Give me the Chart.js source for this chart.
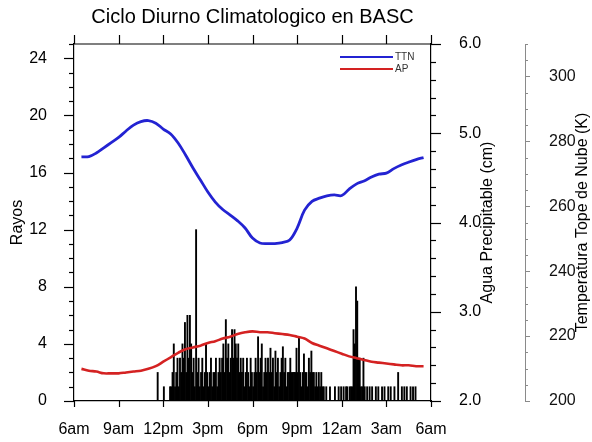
<!DOCTYPE html>
<html>
<head>
<meta charset="utf-8">
<script src="https://cdn.jsdelivr.net/npm/chart.js@4.4.1/dist/chart.umd.min.js"></script>
<style>
  body { margin: 0; background: #fff; }
  canvas { display: block; }
</style>
</head>
<body>
<canvas id="cicloChart" width="592" height="442"></canvas>
<script>
// Etiquetas del eje x (horas desde las 6am)
const horaTicks = [0, 3, 6, 9, 12, 15, 18, 21, 24];
const horaLabels = ['6am', '9am', '12pm', '3pm', '6pm', '9pm', '12am', '3am', '6am'];

// Ticks de cada eje vertical
const rayosTicks = [0, 4, 8, 12, 16, 20, 24];
const aguaTicks = [2, 3, 4, 5, 6];
const tempTicks = [200, 220, 240, 260, 280, 300];

// Rayos por intervalo de 5 minutos, una fila por hora empezando a las 6am
const binHoras = 5 / 60;
const rayos = [
    0, 0, 0, 0, 0, 0, 0, 0, 0, 0, 0, 0,
    0, 0, 0, 0, 0, 0, 0, 0, 0, 0, 0, 0,
    0, 0, 0, 0, 0, 0, 0, 0, 0, 0, 0, 0,
    0, 0, 0, 0, 0, 0, 0, 0, 0, 0, 0, 0,
    0, 0, 0, 0, 0, 0, 0, 0, 0, 0, 0, 0,
    0, 0, 0, 0, 0, 0, 0, 2, 0, 0, 0, 0,
    1, 0, 0, 0, 0, 1, 1, 2, 4, 1, 2, 3,
    1, 3, 2, 4, 3, 5.5, 2, 6, 3, 6, 4, 2,
    3, 1, 12, 2, 3, 1, 2, 3, 1, 2, 4, 2,
    1, 2, 3, 1, 2, 2, 3, 1, 2, 3, 2, 3,
    4, 2, 5.7, 3, 4, 2, 3, 5, 3, 5, 4, 3,
    4, 2, 3, 2, 3, 1, 2, 3, 2, 1, 3, 2,
    1, 2, 3, 2, 4.5, 2, 3, 4, 1, 2, 3, 2,
    3, 2, 3.7, 2, 3, 1, 3.5, 2, 3, 1, 2, 3,
    3.8, 2, 3, 1, 2, 2, 3, 2, 2, 2, 2, 3.7,
    2, 4.5, 2, 1, 2, 3.3, 2, 2, 1, 3, 2, 3.5,
    2, 2, 1, 2, 1, 2, 1, 2, 1, 1, 0, 1,
    0, 0, 1, 0, 0, 0, 1, 0, 0, 1, 0, 1,
    0, 1, 0, 1, 1, 0, 1, 1, 1, 5, 4, 8,
    7, 3, 3, 1, 1, 3, 1, 0, 1, 0, 1, 0,
    1, 0, 0, 1, 0, 1, 0, 0, 1, 0, 1, 0,
    0, 1, 0, 1, 0, 0, 1, 0, 0, 2, 0, 0,
    1, 0, 1, 0, 1, 0, 0, 1, 0, 1, 0, 1,
    0, 0, 0, 0, 0, 0, 0, 0, 0, 0, 0, 0
];

// Medias cada media hora (6:30am ... 5:30am)
const horasLinea = [];
for (let i = 0; i < 47; i++) horasLinea.push(0.5 + i * 0.5);

// Temperatura tope de nube (K)
const ttn = [
    275.2, 275.3, 276.4, 278.0, 279.6, 281.2, 283.2, 285.0, 286.1, 286.4,
    285.6, 283.8, 282.3, 279.5, 275.8, 271.8, 268.1, 264.4, 261.3, 259.0,
    257.3, 255.5, 253.3, 250.2, 248.7, 248.5, 248.5, 248.8, 249.6, 253.3,
    258.8, 261.5, 262.5, 263.2, 263.5, 263.3, 265.3, 266.9, 267.8, 269.0,
    269.9, 270.2, 271.6, 272.7, 273.6, 274.4, 275.0
];

// Agua precipitable (cm)
const ap = [
    2.36, 2.34, 2.33, 2.31, 2.31, 2.31, 2.32, 2.33, 2.34, 2.36,
    2.39, 2.44, 2.49, 2.54, 2.58, 2.60, 2.62, 2.65, 2.67, 2.70,
    2.72, 2.75, 2.77, 2.78, 2.77, 2.77, 2.76, 2.75, 2.74, 2.72,
    2.70, 2.65, 2.62, 2.59, 2.56, 2.53, 2.50, 2.48, 2.46, 2.44,
    2.43, 2.42, 2.41, 2.40, 2.40, 2.39, 2.39
];

const FUENTE = "'Liberation Sans', Arial, Helvetica, sans-serif";

function linea(ctx, x1, y1, x2, y2) {
    ctx.beginPath();
    ctx.moveTo(x1, y1);
    ctx.lineTo(x2, y2);
    ctx.stroke();
}

// Marcas de los ejes, borde superior, titulos y leyenda
const ejesNCL = {
    id: 'ejesNCL',
    afterDraw(chart) {
        const { ctx, chartArea: a, scales } = chart;
        ctx.save();
        ctx.strokeStyle = '#000';
        ctx.lineWidth = 1.2;

        // borde superior
        linea(ctx, a.left, a.top, a.right, a.top);

        // marcas del eje x (abajo y arriba)
        horaTicks.forEach(v => {
            const px = Math.round(scales.x.getPixelForValue(v)) + 0.5;
            linea(ctx, px, a.bottom, px, a.bottom + 6);
            linea(ctx, px, a.top, px, a.top - 9);
        });

        // eje de rayos (izquierda)
        for (let v = 0; v <= 25; v++) {
            const py = Math.round(scales.y.getPixelForValue(v)) + 0.5;
            const largo = v % 4 === 0 ? 10 : 5;
            linea(ctx, a.left - largo, py, a.left, py);
        }

        // eje de agua precipitable
        const x1 = scales.y1.left;
        for (let k = 0; k <= 20; k++) {
            const v = 2 + k * 0.2;
            const py = Math.round(scales.y1.getPixelForValue(v)) + 0.5;
            const largo = k % 5 === 0 ? 10 : 5;
            linea(ctx, x1, py, x1 + largo, py);
        }

        // eje de temperatura
        ctx.strokeStyle = '#8a8a8a';
        ctx.lineWidth = 1;
        const x2 = scales.y2.left;
        for (let v = 200; v <= 310; v += 5) {
            const py = Math.round(scales.y2.getPixelForValue(v)) + 0.5;
            const largo = v % 20 === 0 ? 5 : 3;
            linea(ctx, x2, py, x2 + largo, py);
        }

        // titulo
        ctx.fillStyle = '#000';
        ctx.font = '20px ' + FUENTE;
        ctx.textAlign = 'center';
        ctx.textBaseline = 'middle';
        ctx.fillText('Ciclo Diurno Climatologico en BASC', (a.left + a.right) / 2, 17);

        // titulos de los ejes verticales
        const yc = (a.top + a.bottom) / 2;
        ctx.font = '16px ' + FUENTE;
        [['Rayos', 18], ['Agua Precipitable (cm)', 488], ['Temperatura Tope de Nube (K)', 583]].forEach(([txt, x]) => {
            ctx.save();
            ctx.translate(x, yc);
            ctx.rotate(-Math.PI / 2);
            ctx.fillText(txt, 0, 0);
            ctx.restore();
        });

        // leyenda
        ctx.font = '10px ' + FUENTE;
        ctx.textAlign = 'left';
        ctx.fillStyle = '#333';
        ctx.lineWidth = 2.2;
        chart.data.datasets.filter(d => d.type === 'line').forEach((d, i) => {
            const ly = a.top + 13 + i * 12;
            ctx.strokeStyle = d.borderColor;
            linea(ctx, a.right - 91, ly, a.right - 38, ly);
            ctx.fillText(d.label, a.right - 36, ly);
        });
        ctx.restore();
    }
};

const ctx = document.getElementById('cicloChart').getContext('2d');
new Chart(ctx, {
    data: {
        datasets: [{
            type: 'line',
            label: 'TTN',
            data: horasLinea.map((h, i) => ({ x: h, y: ttn[i] })),
            yAxisID: 'y2',
            borderColor: '#2323d2',
            borderWidth: 2.8,
            pointRadius: 0,
            tension: 0.35,
            order: 0
        }, {
            type: 'line',
            label: 'AP',
            data: horasLinea.map((h, i) => ({ x: h, y: ap[i] })),
            yAxisID: 'y1',
            borderColor: '#d42222',
            borderWidth: 2.6,
            pointRadius: 0,
            tension: 0.35,
            order: 1
        }, {
            type: 'bar',
            label: 'Rayos',
            data: rayos.map((v, i) => ({ x: (i + 0.5) * binHoras, y: v })),
            yAxisID: 'y',
            backgroundColor: '#000',
            barPercentage: 1,
            categoryPercentage: 1,
            order: 2
        }]
    },
    options: {
        responsive: false,
        animation: false,
        layout: { padding: { top: 44 } },
        plugins: {
            legend: { display: false },
            tooltip: { enabled: false }
        },
        scales: {
            x: {
                type: 'linear',
                min: 0,
                max: 24,
                offset: false,
                grid: { display: false, offset: false },
                border: { display: true, color: '#000', width: 1.2 },
                afterBuildTicks: s => { s.ticks = horaTicks.map(v => ({ value: v })); },
                afterFit: s => { s.height = 41; },
                ticks: {
                    padding: 11,
                    maxRotation: 0,
                    color: '#000',
                    font: { family: FUENTE, size: 16 },
                    callback: v => horaLabels[horaTicks.indexOf(v)]
                }
            },
            y: {
                position: 'left',
                min: 0,
                max: 25,
                grid: { display: false },
                border: { display: true, color: '#000', width: 1.2 },
                afterBuildTicks: s => { s.ticks = rayosTicks.map(v => ({ value: v })); },
                afterFit: s => { s.width = 74; },
                ticks: {
                    padding: 19,
                    color: '#000',
                    font: { family: FUENTE, size: 16 }
                }
            },
            y1: {
                position: 'right',
                min: 2,
                max: 6,
                grid: { display: false },
                border: { display: true, color: '#000', width: 1.2 },
                afterBuildTicks: s => { s.ticks = aguaTicks.map(v => ({ value: v })); },
                afterFit: s => { s.width = 94; },
                ticks: {
                    padding: 20,
                    color: '#000',
                    font: { family: FUENTE, size: 16 },
                    callback: v => v.toFixed(1)
                }
            },
            y2: {
                position: 'right',
                min: 200,
                max: 310,
                grid: { display: false },
                border: { display: true, color: '#8a8a8a', width: 1 },
                afterBuildTicks: s => { s.ticks = tempTicks.map(v => ({ value: v })); },
                afterFit: s => { s.width = 67; },
                ticks: {
                    padding: 16,
                    color: '#111',
                    font: { family: FUENTE, size: 16 }
                }
            }
        }
    },
    plugins: [ejesNCL]
});
</script>
</body>
</html>
